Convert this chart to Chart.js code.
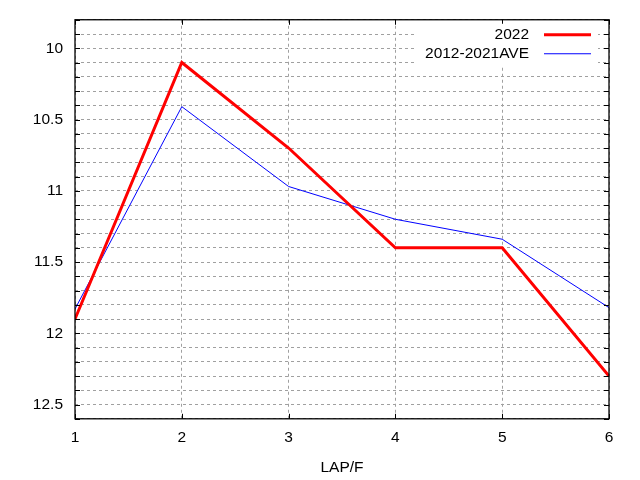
<!DOCTYPE html>
<html>
<head>
<meta charset="utf-8">
<script src="https://cdn.jsdelivr.net/npm/chart.js@4"></script>
<style>
  html, body { margin:0; padding:0; background:#fff; }
  #wrap { width:640px; height:480px; }
</style>
</head>
<body>
<div id="wrap"><canvas id="lapChart" width="640" height="480"></canvas></div>
<script>
/* tiempos por vuelta */
const laps = [1, 2, 3, 4, 5, 6];
const times2022 = [11.9, 10.1, 10.7, 11.4, 11.4, 12.3];
const timesAve = [11.83, 10.41, 10.97, 11.2, 11.34, 11.82];
const seriesNames = ["2022", "2012-2021AVE"];
const xTitle = "LAP/F";

const FONT = "'Liberation Sans', Arial, sans-serif";

// marco, ticks hacia dentro y leyenda dentro del area (estilo gnuplot)
const framePlugin = {
  id: "frame",
  afterDraw(chart){
    const ctx = chart.ctx;
    const a = chart.chartArea;
    const xs = chart.scales.x, ys = chart.scales.y;
    ctx.save();
    ctx.strokeStyle = "#000";
    ctx.lineWidth = 1.3;
    ctx.strokeRect(a.left, a.top, a.right - a.left, a.bottom - a.top);
    ctx.lineWidth = 1;
    ctx.beginPath();
    ys.ticks.forEach(t => {
      const y = Math.round(ys.getPixelForValue(t.value)) + 0.5;
      ctx.moveTo(a.left, y); ctx.lineTo(a.left + 5, y);
      ctx.moveTo(a.right, y); ctx.lineTo(a.right - 5, y);
    });
    xs.ticks.forEach(t => {
      const x = Math.round(xs.getPixelForValue(t.value)) + 0.5;
      ctx.moveTo(x, a.bottom); ctx.lineTo(x, a.bottom - 5);
      ctx.moveTo(x, a.top); ctx.lineTo(x, a.top + 5);
    });
    ctx.stroke();

    // leyenda
    ctx.fillStyle = "#fff";
    ctx.fillRect(a.right - 194, a.top + 4, 183, 43);
    ctx.font = "15.5px " + FONT;
    ctx.textAlign = "right";
    ctx.textBaseline = "middle";
    chart.data.datasets.forEach((ds, i) => {
      const y = a.top + 15 + i * 19;
      ctx.fillStyle = "#000";
      ctx.fillText(ds.label, a.right - 80, y);
      ctx.strokeStyle = ds.borderColor;
      ctx.lineWidth = ds.borderWidth;
      ctx.beginPath();
      ctx.moveTo(a.right - 65, y);
      ctx.lineTo(a.right - 18, y);
      ctx.stroke();
    });
    ctx.restore();
  }
};

new Chart(document.getElementById("lapChart").getContext("2d"), {
  type: "line",
  data: {
    datasets: [
      {
        label: seriesNames[0],
        data: laps.map((l, i) => ({x: l, y: times2022[i]})),
        borderColor: "#ff0000",
        borderWidth: 3,
        pointRadius: 0,
        tension: 0
      },
      {
        label: seriesNames[1],
        data: laps.map((l, i) => ({x: l, y: timesAve[i]})),
        borderColor: "#0000ff",
        borderWidth: 1,
        pointRadius: 0,
        tension: 0
      }
    ]
  },
  options: {
    responsive: false,
    animation: false,
    layout: { padding: { top: 12, right: 31, left: 0, bottom: 3 } },
    plugins: {
      legend: { display: false },
      tooltip: { enabled: false }
    },
    scales: {
      x: {
        type: "linear",
        min: 1, max: 6,
        border: { display: false, dash: [3, 3] },
        grid: { color: "#a0a0a0", drawTicks: false, lineWidth: 1 },
        ticks: { stepSize: 1, padding: 10, color: "#000", font: { family: FONT, size: 15.5 } },
        title: { display: true, text: xTitle, color: "#000", font: { family: FONT, size: 15.5 }, padding: { top: 1, bottom: 0 } }
      },
      y: {
        type: "linear",
        reverse: true,
        min: 9.8, max: 12.6,
        border: { display: false, dash: [3, 3] },
        grid: { color: "#a0a0a0", drawTicks: false, lineWidth: 1 },
        afterFit: (s) => { s.width = 75; },
        ticks: {
          stepSize: 0.1,
          autoSkip: false,
          padding: 12,
          color: "#000",
          font: { family: FONT, size: 15.5, lineHeight: 1 },
          callback: (v) => {
            const h = v * 2;
            return Math.abs(h - Math.round(h)) < 1e-6 ? String(Math.round(h) / 2) : "";
          }
        }
      }
    }
  },
  plugins: [framePlugin]
});
</script>
</body>
</html>
